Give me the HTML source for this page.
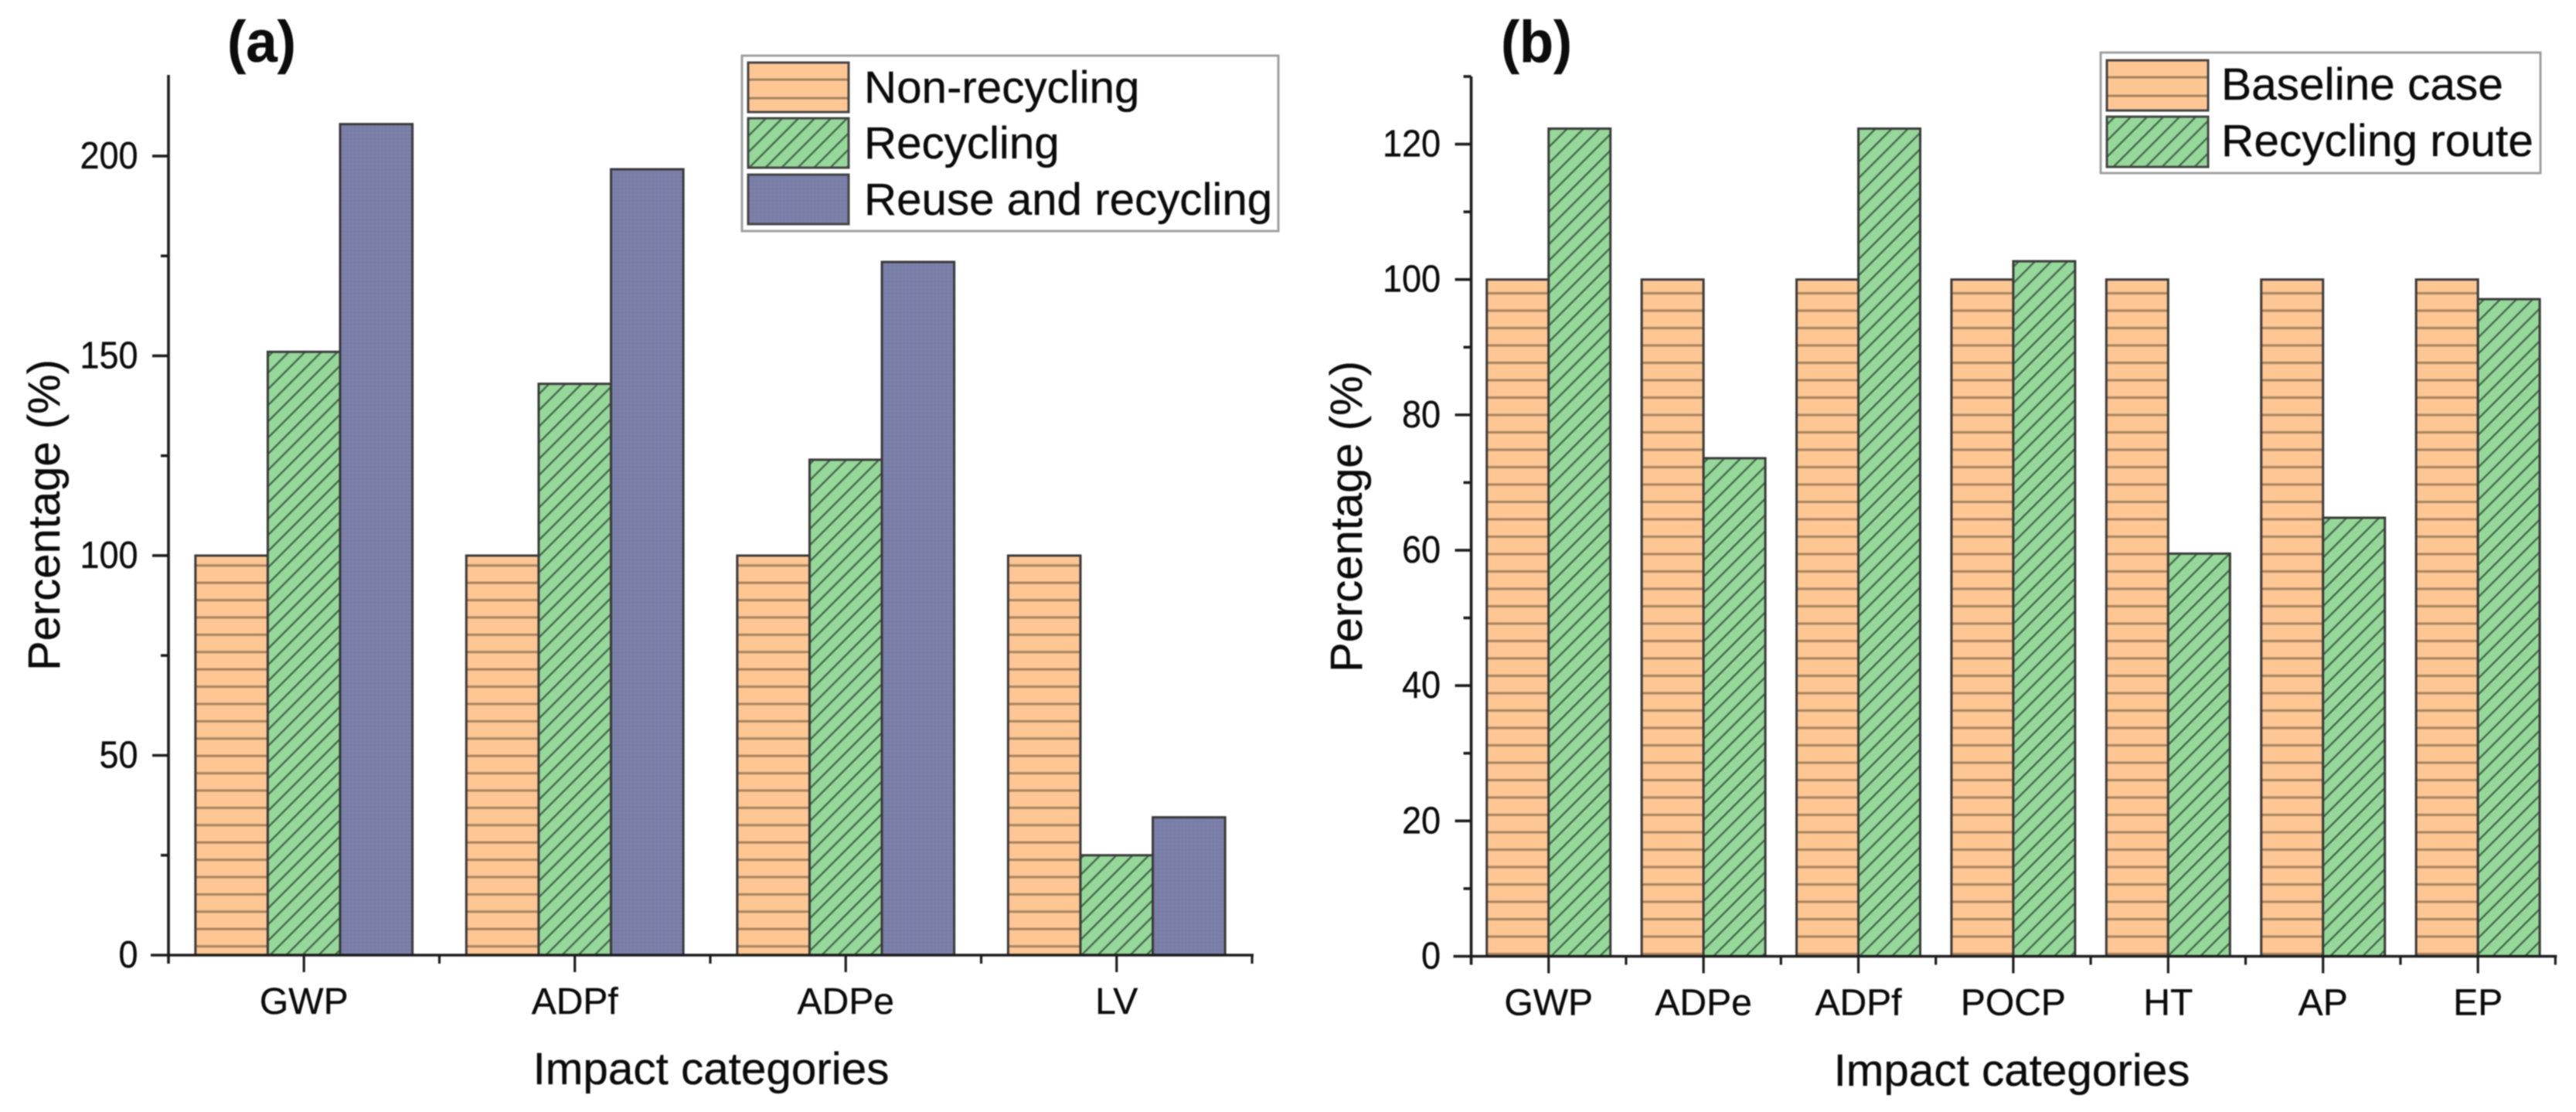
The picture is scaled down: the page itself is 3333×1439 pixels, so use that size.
<!DOCTYPE html>
<html lang="en">
<head>
<meta charset="utf-8">
<title>Impact categories comparison</title>
<style>
html,body{margin:0;padding:0;background:#fff;width:3333px;height:1439px;overflow:hidden}
svg{display:block;filter:blur(0.7px)}
text{font-family:"Liberation Sans",sans-serif;fill:#0c0c0c;stroke:#0c0c0c;stroke-width:0.35px}
</style>
</head>
<body>
<svg id="figure" xmlns="http://www.w3.org/2000/svg" width="3333" height="1439" viewBox="0 0 3333 1439">
<defs>
<pattern id="orangeA" patternUnits="userSpaceOnUse" width="40" height="22.4" patternTransform="translate(0,3.8)">
<rect width="40" height="22.4" fill="#fdc693"/><rect y="9.7" width="40" height="3" fill="#a5835f"/>
</pattern>
<pattern id="orangeB" patternUnits="userSpaceOnUse" width="40" height="22.5" patternTransform="translate(0,8.25)">
<rect width="40" height="22.5" fill="#fdc693"/><rect y="9.75" width="40" height="3" fill="#a5835f"/>
</pattern>
<pattern id="orangeLegA" patternUnits="userSpaceOnUse" width="40" height="24" patternTransform="translate(0,91)">
<rect width="40" height="24" fill="#fdc693"/><rect y="10.5" width="40" height="3" fill="#a5835f"/>
</pattern>
<pattern id="orangeLegB" patternUnits="userSpaceOnUse" width="40" height="24" patternTransform="translate(0,88)">
<rect width="40" height="24" fill="#fdc693"/><rect y="10.5" width="40" height="3" fill="#a5835f"/>
</pattern>
<pattern id="green" patternUnits="userSpaceOnUse" width="14.85" height="14.85" patternTransform="rotate(45)">
<rect width="14.85" height="14.85" fill="#96d79a"/><rect x="6" width="2.4" height="14.85" fill="#456b4c"/>
</pattern>
<pattern id="blue" patternUnits="userSpaceOnUse" width="5" height="5">
<rect width="5" height="5" fill="#7b81aa"/><rect y="4" width="5" height="1" fill="#747aa2"/><rect x="4" width="1" height="5" fill="#767ca5"/>
</pattern>
</defs>
<g id="panelA"></g>
<g id="panelB"></g>

<text x="294" y="80" font-size="76" font-weight="700" textLength="89" lengthAdjust="spacingAndGlyphs">(a)</text>
<text x="1942" y="80" font-size="76" font-weight="700" textLength="92" lengthAdjust="spacingAndGlyphs">(b)</text>

<text x="920" y="1403" font-size="58.4" text-anchor="middle">Impact categories</text>
<text x="2603" y="1405" font-size="58.4" text-anchor="middle">Impact categories</text>
<text transform="translate(77,868) rotate(-90)" font-size="58">Percentage (%)</text>
<text transform="translate(1762,870) rotate(-90)" font-size="58">Percentage (%)</text>

<g>
<rect x="960" y="72" width="694" height="227" fill="#fff" stroke="#a0a0a0" stroke-width="3"/>
<g>
<rect x="968" y="81" width="130" height="64" fill="url(#orangeLegA)" stroke="#444" stroke-width="3"/>
<text x="1118" y="133" font-size="58.3">Non-recycling</text>
</g>
<g>
<rect x="968" y="153" width="130" height="64" fill="url(#green)" stroke="#444" stroke-width="3"/>
<text x="1118" y="205" font-size="58.3">Recycling</text>
</g>
<g>
<rect x="968" y="226" width="130" height="64" fill="url(#blue)" stroke="#444" stroke-width="3"/>
<text x="1118" y="278" font-size="58.3">Reuse and recycling</text>
</g>
</g>

<g>
<rect x="2718" y="68" width="569" height="156" fill="#fff" stroke="#a0a0a0" stroke-width="3"/>
<g>
<rect x="2726" y="78" width="131" height="65" fill="url(#orangeLegB)" stroke="#444" stroke-width="3"/>
<text x="2874" y="129" font-size="58.6">Baseline case</text>
</g>
<g>
<rect x="2726" y="151" width="131" height="65" fill="url(#green)" stroke="#444" stroke-width="3"/>
<text x="2874" y="202" font-size="58.6">Recycling route</text>
</g>
</g>
</svg>
<script>
// Panel (a) data
const categoriesA = ['GWP', 'ADPf', 'ADPe', 'LV'];
const nonRecycling = [100, 100, 100, 100];
const recyclingA = [151, 143, 124, 25];
const reuseRecycling = [208, 196.7, 173.5, 34.5];
const yTicksA = [0, 50, 100, 150, 200];
const yMinorTicksA = [25, 75, 125, 175];

// Panel (b) data
const categoriesB = ['GWP', 'ADPe', 'ADPf', 'POCP', 'HT', 'AP', 'EP'];
const baselineCase = [100, 100, 100, 100, 100, 100, 100];
const recyclingRoute = [122.3, 73.6, 122.3, 102.7, 59.5, 64.8, 97.1];
const yTicksB = [0, 20, 40, 60, 80, 100, 120];
const yMinorTicksB = [10, 30, 50, 70, 90, 110, 130];

const NS = 'http://www.w3.org/2000/svg';
function make(tag, attrs, parent) {
  const el = document.createElementNS(NS, tag);
  for (const k in attrs) el.setAttribute(k, attrs[k]);
  parent.appendChild(el);
  return el;
}

function drawPanel(root, cfg) {
  const y = v => cfg.y0 - (v - 0) * (cfg.y0 - cfg.yTop) / cfg.yMax;
  const x = i => cfg.x0 + (i + 0.5) * cfg.pitch;
  const n = cfg.categories.length;
  const xEnd = x(n - 1) + cfg.pitch / 2;
  const count = cfg.series.length;

  // Bars
  cfg.series.forEach(s => {
    s.values.forEach((v, i) => {
      const left = x(i) + (cfg.offset(count) + s.index) * cfg.barWidth;
      const bar = make('rect', {
        x: left, y: y(v), width: cfg.barWidth, height: y(0) - y(v),
        fill: 'url(#' + s.fill + ')', stroke: '#3a3a3a', 'stroke-width': 3
      }, root);
      
      
    });
  });

  // Y axis
  const yAxis = make('line', {
    x1: cfg.x0, x2: cfg.x0, y1: y(cfg.yMax), y2: cfg.y0 + 11,
    stroke: '#1c1c1c', 'stroke-width': 3.6
  }, root);
  
  

  // X axis
  const xAxis = make('line', {
    x1: cfg.x0 - 23, x2: xEnd + 2, y1: cfg.y0, y2: cfg.y0,
    stroke: '#1c1c1c', 'stroke-width': 3.6
  }, root);
  
  

  // Y ticks and labels
  cfg.yTicks.forEach(v => {
    if (v !== 0) {
      const t = make('line', {
        x1: cfg.x0 - 21, x2: cfg.x0, y1: y(v), y2: y(v),
        stroke: '#1c1c1c', 'stroke-width': 3.6
      }, root);
      
      
    }
    const label = String(v);
    const txt = make('text', {
      x: cfg.x0 - 39.5, y: y(v) + 16, 'font-size': 49, 'text-anchor': 'end',
      textLength: label.length * 25, lengthAdjust: 'spacingAndGlyphs'
    }, root);
    txt.textContent = label;
    
    
  });
  cfg.yMinor.forEach(v => {
    const t = make('line', {
      x1: cfg.x0 - 10, x2: cfg.x0, y1: y(v), y2: y(v),
      stroke: '#1c1c1c', 'stroke-width': 3.6
    }, root);
    
    
  });

  // X ticks and labels
  cfg.categories.forEach((c, i) => {
    const t = make('line', {
      x1: x(i), x2: x(i), y1: cfg.y0, y2: cfg.y0 + 22,
      stroke: '#1c1c1c', 'stroke-width': 3.2
    }, root);
    
    

    const m = make('line', {
      x1: x(i) + cfg.pitch / 2, x2: x(i) + cfg.pitch / 2, y1: cfg.y0, y2: cfg.y0 + 11,
      stroke: '#1c1c1c', 'stroke-width': 3.2
    }, root);
    
    

    const txt = make('text', {
      x: x(i), y: cfg.y0 + 76, 'font-size': 48, 'text-anchor': 'middle'
    }, root);
    txt.textContent = c;
    
    
  });
}

drawPanel(document.getElementById('panelA'), {
  x0: 218, y0: 1236, yTop: 97, yMax: 220.3, pitch: 350.5, barWidth: 93.6,
  offset: c => -c / 2,
  categories: categoriesA, yTicks: yTicksA, yMinor: yMinorTicksA,
  series: [
    { name: 'non-recycling', values: nonRecycling, fill: 'orangeA', index: 0 },
    { name: 'recycling', values: recyclingA, fill: 'green', index: 1 },
    { name: 'reuse-and-recycling', values: reuseRecycling, fill: 'blue', index: 2 }
  ]
});

drawPanel(document.getElementById('panelB'), {
  x0: 1903.5, y0: 1237.5, yTop: 99, yMax: 130, pitch: 200.4, barWidth: 80,
  offset: c => -c / 2,
  categories: categoriesB, yTicks: yTicksB, yMinor: yMinorTicksB,
  series: [
    { name: 'baseline-case', values: baselineCase, fill: 'orangeB', index: 0 },
    { name: 'recycling-route', values: recyclingRoute, fill: 'green', index: 1 }
  ]
});
</script>
</body>
</html>
